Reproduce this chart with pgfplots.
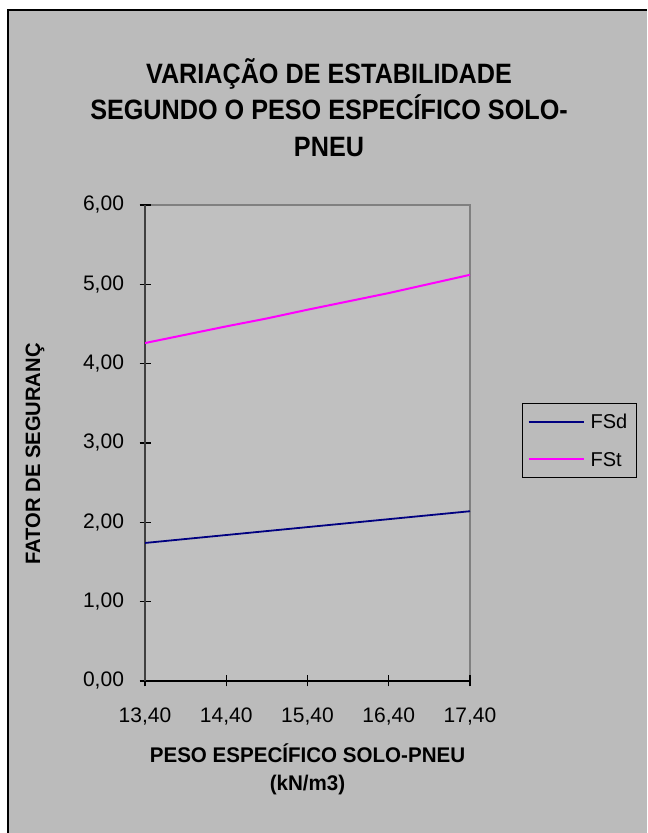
\documentclass[border=0pt]{standalone}
\usepackage{fontspec}
\setmainfont{Liberation Sans}
\newfontfamily\titlefont[FakeStretch=0.9]{Liberation Sans}
\newfontfamily\labelfont[FakeStretch=0.97]{Liberation Sans}
\usepackage{pgfplots}
\pgfplotsset{compat=1.18}
\definecolor{outerbg}{HTML}{BBBBBB}
\definecolor{plotbg}{HTML}{C0C0C0}
\definecolor{fsd}{HTML}{000080}
\definecolor{fst}{HTML}{FF00FF}
\begin{document}
\begin{tikzpicture}
\fill[white] (0,0) rectangle (323.5pt,416.5pt);
\fill[outerbg] (4pt,0) rectangle (323.5pt,411.5pt);
\draw[black, line width=1pt] (4pt,0) -- (4pt,411.5pt) -- (323.5pt,411.5pt);
\begin{axis}[
  at={(72.5pt,76pt)}, anchor=south west,
  scale only axis, width=162.5pt, height=238pt,
  xmin=13.4, xmax=17.4, ymin=0, ymax=6,
  xtick={13.4,14.4,15.4,16.4,17.4}, ytick={0,1,2,3,4,5,6},
  axis x line*=bottom, axis y line*=left,
  axis background/.style={fill=plotbg, draw=gray, line width=1pt},
  x axis line style={black, line width=0.8pt},
  y axis line style={black!75, line width=1pt},
  tick align=center, major tick length=5.5pt,
  tick style={black, line width=0.6pt},
  ticklabel style={font=\fontsize{10.5}{12}\selectfont},
  xticklabel style={yshift=-7pt},
  yticklabel style={xshift=-4.25pt},
  /pgf/number format/.cd, use comma, fixed, fixed zerofill, precision=2, assume math mode=true,
  /pgfplots/.cd,
  legend style={at={(1.16,0.584)}, anchor=north west, draw=black, line width=0.6pt, fill=outerbg,
    font=\fontsize{10}{11}\selectfont, inner xsep=2.5pt, inner ysep=4.5pt,
    row sep=9.85pt, column sep=2pt,
    nodes={inner sep=1pt, text height=7pt, text depth=0pt}},
  legend cell align=left,
  legend image code/.code={\draw[#1] (0pt,0pt) -- (27.5pt,0pt);},
]
\addplot[fsd, line width=0.9pt] coordinates {(13.4,1.74) (14.4,1.84) (15.4,1.94) (16.4,2.04) (17.4,2.14)};
\addlegendentry{FSd\kern1pt}
\addplot[fst, line width=1pt] coordinates {(13.4,4.26) (14.4,4.47) (14.9,4.57) (15.4,4.68) (16.4,4.89) (17.4,5.12)};
\addlegendentry{FSt\kern1pt}
\end{axis}
\node[anchor=base, inner sep=0, font=\titlefont\bfseries\fontsize{14}{16}\selectfont] at (164.5pt,374.75pt) {VARIAÇÃO DE ESTABILIDADE};
\node[anchor=base, inner sep=0, font=\titlefont\bfseries\fontsize{14}{16}\selectfont] at (164.5pt,356.5pt) {SEGUNDO O PESO ESPECÍFICO SOLO-};
\node[anchor=base, inner sep=0, font=\titlefont\bfseries\fontsize{14}{16}\selectfont] at (164.5pt,338pt) {PNEU};
\node[anchor=base, inner sep=0, rotate=90, font=\labelfont\bfseries\fontsize{10.4}{12}\selectfont] at (20pt,189.5pt) {FATOR DE SEGURANÇ};
\node[anchor=base, inner sep=0, font=\labelfont\bfseries\fontsize{10.6}{12}\selectfont] at (153.75pt,35pt) {PESO ESPECÍFICO SOLO-PNEU};
\node[anchor=base, inner sep=0, font=\labelfont\bfseries\fontsize{10.6}{12}\selectfont] at (153.75pt,21pt) {(kN/m3)};
\pgfresetboundingbox
\useasboundingbox (0,0) rectangle (323.5pt,416.5pt);
\end{tikzpicture}
\end{document}
